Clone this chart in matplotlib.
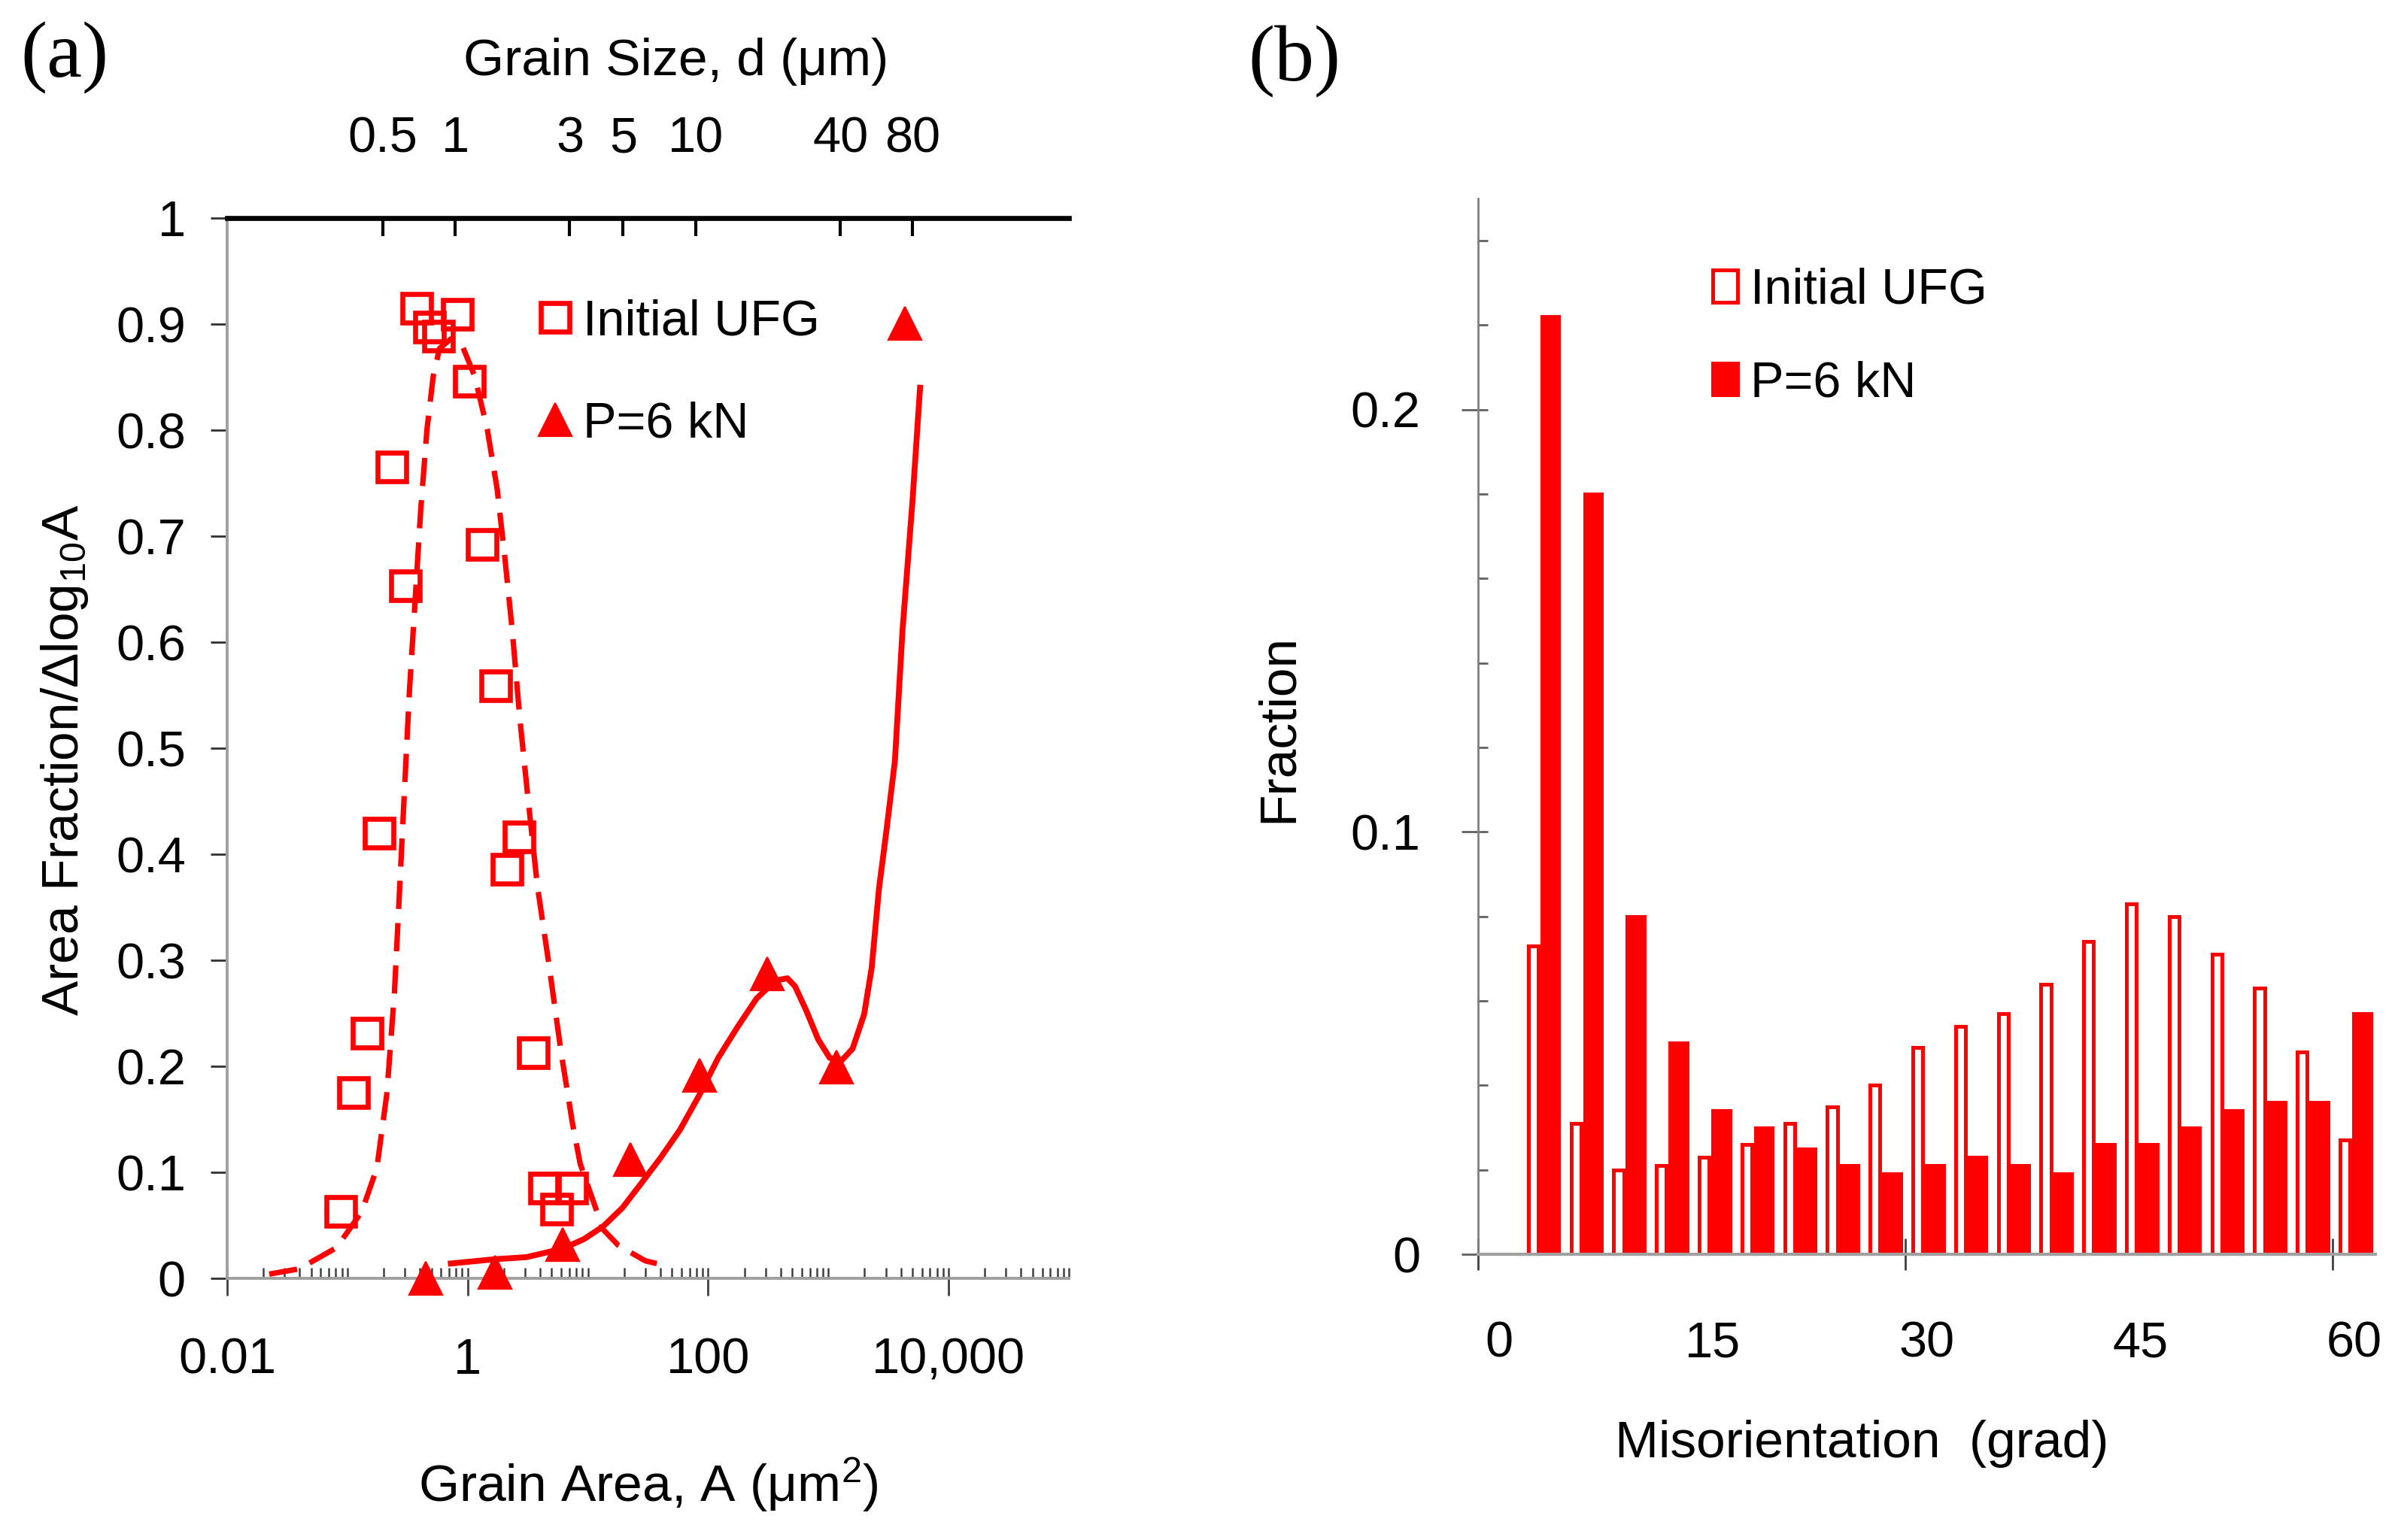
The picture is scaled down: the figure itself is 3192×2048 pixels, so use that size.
import numpy as np
import matplotlib
matplotlib.use("Agg")
import matplotlib.pyplot as plt
from matplotlib.lines import Line2D
from matplotlib.patches import Patch
from matplotlib.ticker import FixedLocator, NullFormatter, NullLocator, LogLocator, MultipleLocator

plt.rcParams['font.family'] = ['Liberation Sans', 'DejaVu Sans']
plt.rcParams['mathtext.fontset'] = 'custom'
plt.rcParams['mathtext.rm'] = 'Liberation Sans'
plt.rcParams['mathtext.it'] = 'Liberation Sans:italic'

RED = '#ff0000'

# ---------------- panel (a): grain area distribution ----------------
# measured points, log10(A / um^2) and area fraction per decade
ufg_logA = [-1.057, -0.949, -0.838, -0.738, -0.630, -0.519, -0.421, -0.317, -0.244,
            -0.088, 0.017, 0.121, 0.236, 0.330, 0.430, 0.549, 0.637, 0.739, 0.866]
ufg_frac = [0.063, 0.175, 0.231, 0.420, 0.765, 0.653, 0.915, 0.897, 0.889,
            0.909, 0.846, 0.692, 0.559, 0.386, 0.416, 0.213, 0.085, 0.065, 0.085]

p6_logA = [-0.350, 0.230, 0.790, 1.351, 1.931, 2.493, 3.067, 3.635]
p6_frac = [0.0, 0.006, 0.032, 0.112, 0.1915, 0.287, 0.199, 0.901]

# fitted curves
ufg_fit_logA = [-1.65, -1.40, -1.09, -0.88, -0.755, -0.672, -0.609, -0.567, -0.526,
                -0.484, -0.442, -0.390, -0.338, -0.286, -0.234, -0.14, -0.046, 0.058,
                0.163, 0.246, 0.309, 0.371, 0.434, 0.496, 0.580, 0.680, 0.776, 0.872,
                0.936, 1.127, 1.254, 1.478, 1.59]
ufg_fit_frac = [0.004, 0.009, 0.029, 0.063, 0.104, 0.174, 0.269, 0.364, 0.459,
                0.554, 0.630, 0.725, 0.801, 0.851, 0.877, 0.886, 0.880, 0.851,
                0.801, 0.744, 0.680, 0.611, 0.528, 0.459, 0.370, 0.293, 0.214, 0.146,
                0.108, 0.046, 0.031, 0.0165, 0.0135]

p6_fit_logA = [-0.14, 0.219, 0.49, 0.79, 0.967, 1.127, 1.287, 1.446, 1.606, 1.765,
               1.925, 2.084, 2.244, 2.403, 2.563, 2.659, 2.722, 2.818, 2.914, 3.01,
               3.106, 3.201, 3.297, 3.36, 3.42, 3.48, 3.553, 3.616, 3.699, 3.762]
p6_fit_frac = [0.014, 0.018, 0.020, 0.028, 0.037, 0.049, 0.0665, 0.090, 0.114, 0.140,
               0.1725, 0.208, 0.237, 0.264, 0.281, 0.283, 0.2755, 0.252, 0.2255, 0.208,
               0.205, 0.2166, 0.249, 0.293, 0.367, 0.42, 0.488, 0.611, 0.733, 0.840]

area_ticks = [0.01, 1, 100, 10000]
area_labels = ['0.01', '1', '100', '10,000']
frac_ticks = [0, 0.1, 0.2, 0.3, 0.4, 0.5, 0.6, 0.7, 0.8, 0.9, 1.0]
frac_labels = ['0', '0.1', '0.2', '0.3', '0.4', '0.5', '0.6', '0.7', '0.8', '0.9', '1']
size_ticks = [0.5, 1, 3, 5, 10, 40, 80]          # grain size d, um
size_labels = ['0.5', '1', '3', '5', '10', '40', '80']

# ---------------- panel (b): misorientation distribution ----------------
mis_bins = [3, 6, 9, 12, 15, 18, 21, 24, 27, 30, 33, 36, 39, 42, 45, 48, 51, 54, 57, 60]
mis_ufg = [0.073, 0.031, 0.020, 0.021, 0.023, 0.026, 0.031, 0.035, 0.040, 0.049,
           0.054, 0.057, 0.064, 0.074, 0.083, 0.080, 0.071, 0.063, 0.048, 0.027]
mis_p6 = [0.222, 0.180, 0.080, 0.050, 0.034, 0.030, 0.025, 0.021, 0.019, 0.021,
          0.023, 0.021, 0.019, 0.026, 0.026, 0.030, 0.034, 0.036, 0.036, 0.057]
mis_labels = [0, 15, 30, 45, 60]
mis_yticks = [0, 0.1, 0.2]
mis_ylabels = ['0', '0.1', '0.2']

fig = plt.figure(figsize=(15.96, 10.24), dpi=200)

# ---------------- draw (a) ----------------
ax = fig.add_axes([0.0946, 0.1699, 0.3506, 0.6885])
ax.set_xscale('log')
ax.set_xlim(0.01, 1e5)
ax.set_ylim(0, 1)

ax.plot(10 ** np.array(ufg_fit_logA), ufg_fit_frac, color=RED, lw=2.6, dashes=(5.2, 2.6))
ax.plot(10 ** np.array(p6_fit_logA), p6_fit_frac, color=RED, lw=2.8)
ax.plot(10 ** np.array(ufg_logA), ufg_frac, ls='none', marker='s', ms=14, mew=2.4,
        mfc='none', mec=RED, clip_on=False, zorder=4)
ax.plot(10 ** np.array(p6_logA), p6_frac, ls='none', marker='^', ms=16, mew=0.8,
        mfc=RED, mec=RED, clip_on=False, zorder=4)

ax.xaxis.set_major_locator(FixedLocator(area_ticks))
ax.set_xticklabels(area_labels)
ax.xaxis.set_minor_locator(LogLocator(base=10, subs=np.arange(1, 10), numticks=100))
ax.xaxis.set_minor_formatter(NullFormatter())
ax.xaxis.remove_overlapping_locs = False
ax.set_yticks(frac_ticks)
ax.set_yticklabels(frac_labels)

ax.tick_params(axis='x', which='major', direction='out', length=8.3, width=1.0,
               color='#404040', pad=20, labelsize=24)
ax.tick_params(axis='x', which='minor', direction='in', length=5, width=0.9, color='#404040')
ax.tick_params(axis='y', direction='out', length=7.9, width=1.0, color='#303030',
               pad=11.9, labelsize=24)

ax.spines['right'].set_visible(False)
ax.spines['top'].set_visible(False)
for s in ['left', 'bottom']:
    ax.spines[s].set_color('#a0a0a0')
    ax.spines[s].set_linewidth(1.4)

# top axis: grain size d, with A = pi d^2 / 4
ax_top = ax.twiny()
ax_top.set_xscale('log')
ax_top.set_xlim(ax.get_xlim())
ax_top.xaxis.set_major_locator(FixedLocator(np.pi * np.array(size_ticks) ** 2 / 4))
ax_top.xaxis.set_minor_locator(NullLocator())
ax_top.set_xticklabels(size_labels)
ax_top.tick_params(axis='x', direction='in', length=8.5, width=1.5, color='black',
                   pad=26.5, labelsize=24)
for s in ['left', 'right', 'bottom']:
    ax_top.spines[s].set_visible(False)
ax_top.spines['top'].set_color('black')
ax_top.spines['top'].set_linewidth(2.4)

ax.text(0.5335, 1.1348, 'Grain Size, d (μm)', transform=ax.transAxes,
        ha='center', va='baseline', fontsize=25)
ax.text(0.5, -0.2106, 'Grain Area, A (μm$^{2}$)', transform=ax.transAxes,
        ha='center', va='baseline', fontsize=25)
ax.text(-0.1926, 0.4887, 'Area Fraction/Δlog$_{10}$A', transform=ax.transAxes,
        rotation=90, ha='center', va='center', fontsize=25)

ax.legend(handles=[
    Line2D([], [], ls='none', marker='s', ms=14, mew=2.4, mfc='none', mec=RED),
    Line2D([], [], ls='none', marker='^', ms=16, mew=0.8, mfc=RED, mec=RED)],
    labels=['Initial UFG', 'P=6 kN'], loc='upper left', bbox_to_anchor=(0.360, 0.924),
    frameon=False, fontsize=24, borderpad=0, borderaxespad=0, handlelength=1.0,
    handletextpad=0.05, labelspacing=1.11, numpoints=1)

# ---------------- draw (b) ----------------
bx = fig.add_axes([0.6156, 0.1855, 0.3737, 0.6856])
bins = np.array(mis_bins)
bx.bar(bins + 0.875, mis_ufg, width=0.7, facecolor='none', edgecolor=RED, linewidth=1.8)
bx.bar(bins + 2.075, mis_p6, width=1.2, facecolor=RED, edgecolor=RED, linewidth=1.8)
bx.set_xlim(0, 63)
bx.set_ylim(0, 0.25)

bx.set_xticks([0, 30, 60])
bx.set_xticklabels([])
bx.set_xticks([v + 1.5 for v in mis_labels], minor=True)
bx.set_xticklabels([str(v) for v in mis_labels], minor=True)
bx.tick_params(axis='x', which='major', direction='inout', length=15, width=1.0, color='#404040')
bx.tick_params(axis='x', which='minor', length=0, pad=32, labelsize=24)

bx.set_yticks(mis_yticks)
bx.set_yticklabels(mis_ylabels)
bx.yaxis.set_minor_locator(MultipleLocator(0.02))
bx.yaxis.remove_overlapping_locs = False
bx.tick_params(axis='y', which='major', direction='out', length=7.9, width=1.0,
               color='#606060', pad=19.8, labelsize=24)
bx.tick_params(axis='y', which='minor', direction='in', length=4.7, width=1.0, color='#606060')

bx.spines['right'].set_visible(False)
bx.spines['top'].set_visible(False)
bx.spines['left'].set_color('#808080')
bx.spines['left'].set_linewidth(1.0)
bx.spines['bottom'].set_color('#a0a0a0')
bx.spines['bottom'].set_linewidth(1.5)

bx.text(0.428, -0.1923, 'Misorientation  (grad)', transform=bx.transAxes,
        ha='center', va='baseline', fontsize=25)
bx.text(-0.222, 0.498, 'Fraction', transform=bx.transAxes,
        rotation=90, ha='center', va='center', fontsize=25)

bx.legend(handles=[Patch(facecolor='none', edgecolor=RED, linewidth=1.8),
                   Patch(facecolor=RED, edgecolor=RED, linewidth=1.8)],
          labels=['Initial UFG', 'P=6 kN'], loc='upper left', bbox_to_anchor=(0.2615, 0.9345),
          frameon=False, fontsize=24, borderpad=0, borderaxespad=0, handlelength=0.5,
          handleheight=0.6, handletextpad=0.25, labelspacing=0.92)

fig.text(0.027, 0.9624, '(a)', family=['Liberation Serif', 'DejaVu Serif'],
         fontsize=38, ha='center', va='center')
fig.text(0.539, 0.960, '(b)', family=['Liberation Serif', 'DejaVu Serif'],
         fontsize=38, ha='center', va='center')

fig.savefig('out.png', dpi=200)
